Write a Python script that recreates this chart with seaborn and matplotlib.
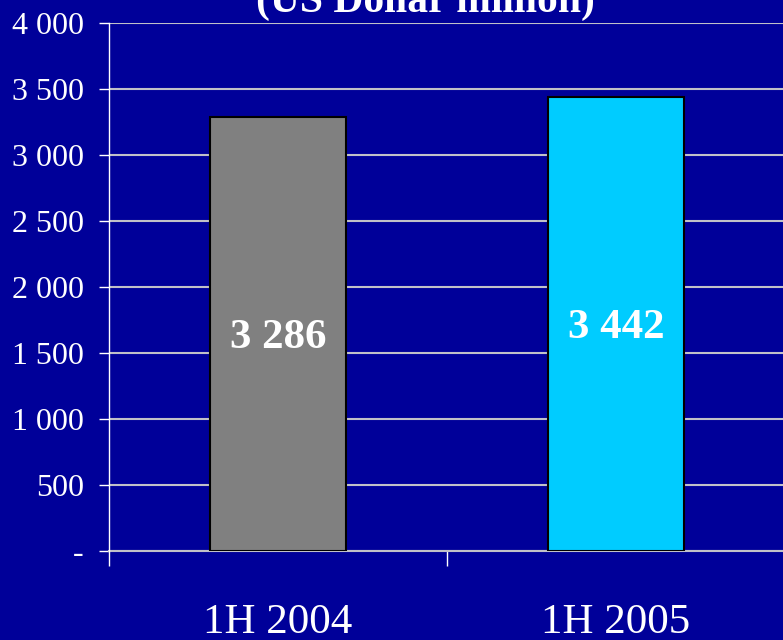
import numpy as np
import matplotlib
matplotlib.use("Agg")
import matplotlib.pyplot as plt
import matplotlib.ticker as mticker
import pandas as pd
import seaborn as sns

periods = ["1H 2004", "1H 2005"]
values = [3286, 3442]
bar_colors = ["#808080", "#00CCFF"]
y_ticks = [0, 500, 1000, 1500, 2000, 2500, 3000, 3500, 4000]
title = "(US Dollar million)"

bg = "#000099"
grid_col = "#C0C0C8"

sns.set_style("white")
plt.rcParams["font.family"] = ["Liberation Serif", "DejaVu Serif"]

df = pd.DataFrame({"Period": periods, "Value": values})

fig = plt.figure(figsize=(7.83, 6.40), dpi=100, facecolor=bg)
ax = fig.add_axes([109 / 783, 1 - 551 / 640, 676 / 783, 528 / 640])
ax.set_facecolor(bg)

sns.barplot(data=df, x="Period", y="Value", hue="Period", palette=bar_colors,
            saturation=1, width=0.4, edgecolor="black", linewidth=1.5,
            legend=False, zorder=3, ax=ax)

ax.set_xlim(-0.5, 1.5)
ax.set_ylim(0, 4000)
ax.set_yticks(y_ticks)
ax.yaxis.set_major_formatter(mticker.FuncFormatter(
    lambda v, p: "-" if v == 0 else f"{v:,.0f}".replace(",", " ")))
ax.grid(axis="y", color=grid_col, linewidth=1.5, zorder=0)
ax.set_axisbelow(True)

# category boundary ticks
ax.set_xticks([-0.5, 0.5, 1.5], minor=True)
ax.tick_params(axis="x", which="minor", bottom=True, length=11, width=1,
               color="white", direction="out")
ax.tick_params(axis="x", which="major", bottom=True, length=0, pad=38,
               labelsize=31, labelcolor="white")
ax.tick_params(axis="y", left=True, length=7.2, width=1, color="white",
               direction="out", pad=11, labelsize=23, labelcolor="white")

for s in ["top", "right"]:
    ax.spines[s].set_visible(False)
ax.spines["left"].set_color("white")
ax.spines["bottom"].set_color(grid_col)
ax.spines["left"].set_linewidth(1)
ax.spines["bottom"].set_linewidth(1.5)
ax.spines["left"].set_zorder(4)

ax.set_xlabel("")
ax.set_ylabel("")

for p in ax.patches:
    h = p.get_height()
    ax.annotate(f"{h:,.0f}".replace(",", " "),
                (p.get_x() + p.get_width() / 2., h / 2.),
                ha="center", va="center", xytext=(0, -3),
                textcoords="offset points", color="white",
                fontsize=31, fontweight="bold")

fig.text(425 / 783, 1 - 12 / 640, title, ha="center", va="baseline",
         color="white", fontsize=30, fontweight="bold")

fig.savefig("out.png", dpi=100, facecolor=bg)
